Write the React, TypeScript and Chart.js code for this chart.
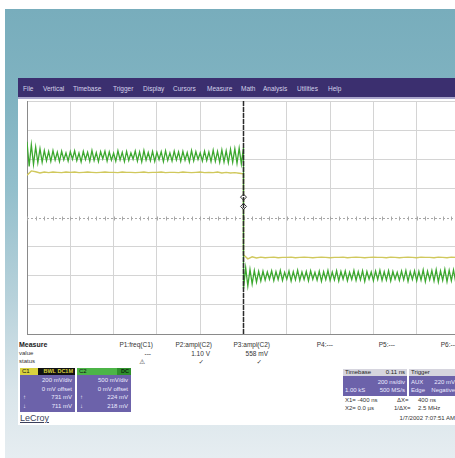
import React, { useEffect, useRef } from "react";
import { Chart, registerables } from "chart.js";

Chart.register(...registerables);

// ---------------- data ----------------
// C1 sample times (ns), 20 ns apart: before and after the trigger
const c1HighTimesNs = [
  -1000, -980, -960, -940, -920, -900, -880, -860, -840, -820,
  -800, -780, -760, -740, -720, -700, -680, -660, -640, -620,
  -600, -580, -560, -540, -520, -500, -480, -460, -440, -420,
  -400, -380, -360, -340, -320, -300, -280, -260, -240, -220,
  -200, -180, -160, -140, -120, -100, -80, -60, -40, -20,
  0,
];
const c1LowTimesNs = [
  0, 20, 40, 60, 80, 100, 120, 140, 160, 180,
  200, 220, 240, 260, 280, 300, 320, 340, 360, 380,
  400, 420, 440, 460, 480, 500, 520, 540, 560, 580,
  600, 620, 640, 660, 680, 700, 720, 740, 760, 780,
  800, 820, 840, 860, 880, 900, 920, 940, 960, 980,
  1000,
];
// C2 sample times (ns), 10 ns apart
const c2HighTimesNs = [
  -1000, -990, -980, -970, -960, -950, -940, -930, -920, -910,
  -900, -890, -880, -870, -860, -850, -840, -830, -820, -810,
  -800, -790, -780, -770, -760, -750, -740, -730, -720, -710,
  -700, -690, -680, -670, -660, -650, -640, -630, -620, -610,
  -600, -590, -580, -570, -560, -550, -540, -530, -520, -510,
  -500, -490, -480, -470, -460, -450, -440, -430, -420, -410,
  -400, -390, -380, -370, -360, -350, -340, -330, -320, -310,
  -300, -290, -280, -270, -260, -250, -240, -230, -220, -210,
  -200, -190, -180, -170, -160, -150, -140, -130, -120, -110,
  -100, -90, -80, -70, -60, -50, -40, -30, -20, -10,
  0,
];
const c2LowTimesNs = [
  0, 10, 20, 30, 40, 50, 60, 70, 80, 90,
  100, 110, 120, 130, 140, 150, 160, 170, 180, 190,
  200, 210, 220, 230, 240, 250, 260, 270, 280, 290,
  300, 310, 320, 330, 340, 350, 360, 370, 380, 390,
  400, 410, 420, 430, 440, 450, 460, 470, 480, 490,
  500, 510, 520, 530, 540, 550, 560, 570, 580, 590,
  600, 610, 620, 630, 640, 650, 660, 670, 680, 690,
  700, 710, 720, 730, 740, 750, 760, 770, 780, 790,
  800, 810, 820, 830, 840, 850, 860, 870, 880, 890,
  900, 910, 920, 930, 940, 950, 960, 970, 980, 990,
  1000,
];

// C2 (green) trace, in screen divisions
const c2HighDiv = [
  2.6, 1.75, 2.5, 1.82, 2.42, 1.88, 2.36, 1.9, 2.3, 1.95,
  2.27, 1.93, 2.3, 1.97, 2.24, 1.92, 2.28, 1.98, 2.22, 1.94,
  2.26, 2.0, 2.29, 1.95, 2.21, 1.91, 2.27, 1.99, 2.24, 1.93,
  2.3, 1.96, 2.23, 1.92, 2.26, 2.01, 2.28, 1.94, 2.25, 1.97,
  2.21, 1.93, 2.29, 1.98, 2.24, 1.92, 2.27, 1.96, 2.22, 2.0,
  2.28, 1.94, 2.25, 1.91, 2.3, 1.97, 2.23, 1.95, 2.27, 1.93,
  2.24, 1.99, 2.26, 1.92, 2.29, 1.96, 2.22, 1.94, 2.28, 1.98,
  2.25, 1.93, 2.27, 1.97, 2.23, 1.91, 2.3, 1.95, 2.26, 1.99,
  2.22, 1.94, 2.28, 1.96, 2.25, 1.92, 2.31, 1.93, 2.27, 1.9,
  2.32, 1.91, 2.29, 1.88, 2.34, 1.9, 2.36, 1.86, 2.38, 1.84,
  2.4,
];
const c2LowDiv = [
  -2.45, -1.72, -2.35, -1.78, -2.28, -1.82, -2.22, -1.85, -2.18, -1.84,
  -2.15, -1.87, -2.12, -1.83, -2.17, -1.86, -2.13, -1.82, -2.16, -1.88,
  -2.12, -1.84, -2.18, -1.86, -2.14, -1.81, -2.16, -1.87, -2.13, -1.85,
  -2.17, -1.83, -2.12, -1.88, -2.15, -1.84, -2.19, -1.86, -2.13, -1.82,
  -2.16, -1.87, -2.14, -1.83, -2.18, -1.85, -2.12, -1.84, -2.17, -1.88,
  -2.13, -1.82, -2.16, -1.86, -2.14, -1.83, -2.19, -1.85, -2.12, -1.87,
  -2.17, -1.84, -2.13, -1.81, -2.16, -1.86, -2.15, -1.83, -2.18, -1.85,
  -2.12, -1.88, -2.16, -1.84, -2.14, -1.82, -2.19, -1.86, -2.13, -1.83,
  -2.17, -1.85, -2.15, -1.8, -2.2, -1.84, -2.14, -1.82, -2.18, -1.79,
  -2.21, -1.83, -2.16, -1.78, -2.2, -1.81, -2.17, -1.8, -2.22, -1.82,
  -2.18,
];
// C1 (yellow) trace, in screen divisions
const c1HighDiv = [
  1.45, 1.6, 1.57, 1.53, 1.56, 1.54, 1.56, 1.55, 1.54, 1.56,
  1.55, 1.56, 1.54, 1.55, 1.56, 1.55, 1.54, 1.55, 1.56, 1.55,
  1.55, 1.54, 1.56, 1.55, 1.55, 1.54, 1.55, 1.56, 1.54, 1.55,
  1.55, 1.56, 1.54, 1.55, 1.55, 1.54, 1.56, 1.55, 1.54, 1.55,
  1.56, 1.54, 1.55, 1.54, 1.56, 1.53, 1.55, 1.53, 1.54, 1.52,
  1.5,
];
const c1LowDiv = [
  -1.28, -1.42, -1.35, -1.39, -1.36, -1.38, -1.37, -1.36, -1.38, -1.37,
  -1.37, -1.36, -1.38, -1.37, -1.36, -1.37, -1.38, -1.37, -1.36, -1.37,
  -1.38, -1.37, -1.37, -1.36, -1.38, -1.37, -1.36, -1.37, -1.38, -1.37,
  -1.36, -1.37, -1.37, -1.38, -1.36, -1.37, -1.38, -1.37, -1.36, -1.37,
  -1.38, -1.36, -1.37, -1.37, -1.38, -1.36, -1.37, -1.38, -1.36, -1.37,
  -1.37,
];

const triggerTimeNs = 0;
const triggerMarkDiv = [0.7, 0.38];
const timeMinNs = -1000;
const timeMaxNs = 1000;
const timeDivNs = 200;
const divMin = -4;
const divMax = 4;

const menuItems = ["File", "Vertical", "Timebase", "Trigger", "Display", "Cursors", "Measure", "Math", "Analysis", "Utilities", "Help"];
const menuX = [23, 43, 73, 113, 143, 173, 207, 241, 263, 297, 328];

const measureNames = ["P1:freq(C1)", "P2:ampl(C2)", "P3:ampl(C2)", "P4:---", "P5:---", "P6:---"];
const measureValues = ["---", "1.10 V", "558 mV", "", "", ""];
const measureStatus = ["⚠", "✓", "✓", "", "", ""];
const measureRight = [153, 212, 270, 333, 395, 457];

const c1Lines = ["200 mV/div", "0 mV offset", "731 mV", "711 mV"];
const c2Lines = ["500 mV/div", "0 mV offset", "224 mV", "218 mV"];

// --------------------------------------
const FONT = '"Liberation Sans", Arial, "DejaVu Sans", sans-serif';

const abs = (o: React.CSSProperties): React.CSSProperties => ({ position: "absolute", ...o });

function ScopeChart() {
  const ref = useRef<HTMLCanvasElement | null>(null);
  useEffect(() => {
    if (!ref.current) return;
    const toPts = (ts: number[], vs: number[]) => ts.map((t, i) => ({ x: t, y: vs[i] }));
    const centerAxis = {
      id: "centerAxis",
      beforeDatasetsDraw(chart: any) {
        const { ctx, chartArea, scales } = chart;
        const xs = scales.x;
        const ys = scales.y;
        const y0 = Math.round(ys.getPixelForValue(0)) + 0.5;
        ctx.save();
        ctx.strokeStyle = "#a8a8a8";
        ctx.lineWidth = 1;
        ctx.setLineDash([2, 2]);
        ctx.beginPath();
        ctx.moveTo(chartArea.left, y0);
        ctx.lineTo(chartArea.right, y0);
        ctx.stroke();
        ctx.setLineDash([]);
        ctx.beginPath();
        for (let v = timeMinNs; v <= timeMaxNs; v += timeDivNs / 5) {
          const px = Math.round(xs.getPixelForValue(v)) + 0.5;
          ctx.moveTo(px, y0 - 2);
          ctx.lineTo(px, y0 + 2);
        }
        ctx.stroke();
        ctx.restore();
      },
    };
    const chart = new Chart(ref.current, {
      type: "scatter",
      data: {
        datasets: [
          {
            label: "Trigger",
            data: [
              { x: triggerTimeNs, y: divMin },
              { x: triggerTimeNs, y: divMax },
            ],
            showLine: true,
            borderColor: "#2b2b2b",
            borderWidth: 1.5,
            borderDash: [5, 1],
            pointRadius: 0,
          },
          {
            label: "Trigger marks",
            data: triggerMarkDiv.map((v) => ({ x: triggerTimeNs, y: v })),
            showLine: false,
            pointStyle: "rectRot",
            pointRadius: 3,
            backgroundColor: "#ffffff",
            borderColor: "#333333",
            borderWidth: 1,
          },
          {
            label: "C2",
            data: [...toPts(c2HighTimesNs, c2HighDiv), ...toPts(c2LowTimesNs, c2LowDiv)],
            showLine: true,
            borderColor: "#3ca82f",
            borderWidth: 1.3,
            pointRadius: 0,
          },
          {
            label: "C1",
            data: [...toPts(c1HighTimesNs, c1HighDiv), ...toPts(c1LowTimesNs, c1LowDiv)],
            showLine: true,
            borderColor: "#d0c85c",
            borderWidth: 1.4,
            pointRadius: 0,
          },
        ],
      },
      options: {
        animation: false,
        responsive: true,
        maintainAspectRatio: false,
        events: [],
        layout: { padding: 5 },
        plugins: { legend: { display: false }, tooltip: { enabled: false } },
        scales: {
          x: {
            type: "linear",
            min: timeMinNs,
            max: timeMaxNs,
            ticks: { display: false, stepSize: timeDivNs },
            grid: { color: "#d4d4d4", drawTicks: false },
            border: { display: true, color: "#8a8a8a" },
          },
          y: {
            type: "linear",
            min: divMin,
            max: divMax,
            ticks: { display: false, stepSize: 1 },
            grid: {
              color: (c: any) => (c.tick && c.tick.value === 0 ? "rgba(0,0,0,0)" : "#d4d4d4"),
              drawTicks: false,
            },
            border: { display: true, color: "#8a8a8a" },
          },
        },
      },
      plugins: [centerAxis],
    } as any);
    return () => chart.destroy();
  }, []);
  return (
    <div style={abs({ left: 22, top: 96, width: 443, height: 243 })}>
      <canvas ref={ref} />
    </div>
  );
}

function ChannelBox(props: {
  left: number;
  width: number;
  name: string;
  nameBg: string;
  tag: string;
  tagBg: string;
  tagColor: string;
  nameWidth: number;
  lines: string[];
}) {
  const { left, width, name, nameBg, tag, tagBg, tagColor, nameWidth, lines } = props;
  return (
    <div style={abs({ left, top: 368, width, height: 44, background: "#6c62aa" })}>
      <div style={abs({ left: 0, top: 0, width: nameWidth, height: 7, background: nameBg, color: "#111", fontSize: 6, lineHeight: "7px", paddingLeft: 2, boxSizing: "border-box" })}>{name}</div>
      <div style={abs({ left: nameWidth, top: 0, width: width - nameWidth, height: 7, background: tagBg, color: tagColor, fontSize: 5.5, lineHeight: "7px", textAlign: "right", paddingRight: 2, boxSizing: "border-box", fontWeight: 700 })}>{tag}</div>
      {lines.map((l, i) => (
        <div key={i} style={abs({ left: 0, top: 9 + i * 8.5, width: width - 3, height: 7, color: "#ecebff", fontSize: 6, lineHeight: "7px", textAlign: "right" })}>{l}</div>
      ))}
      <div style={abs({ left: 3, top: 9 + 2 * 8.5, color: "#ecebff", fontSize: 6, lineHeight: "7px" })}>↑</div>
      <div style={abs({ left: 3, top: 9 + 3 * 8.5, color: "#ecebff", fontSize: 6, lineHeight: "7px" })}>↓</div>
    </div>
  );
}

export default function App() {
  const txt = (o: React.CSSProperties): React.CSSProperties => abs({ whiteSpace: "nowrap", ...o });
  return (
    <div style={{ position: "fixed", left: 0, top: 0, width: 455, height: 458, overflow: "hidden", background: "#ffffff", fontFamily: FONT }}>
      {/* page background */}
      <div
        style={abs({
          left: 5,
          top: 9,
          width: 450,
          height: 449,
          background: "linear-gradient(to bottom, #78adbc 0%, #80b3c1 20%, #93bfcc 40%, #b8d2db 65%, #d9e5ea 85%, #e6edf1 100%)",
        })}
      />
      {/* scope panel */}
      <div style={abs({ left: 18, top: 78, width: 437, height: 347, background: "#ffffff" })} />
      {/* menu bar */}
      <div style={abs({ left: 18, top: 78, width: 437, height: 19, background: "#3b2f6f", borderBottom: "2px solid #aaa6cc" })} />
      {menuItems.map((m, i) => (
        <div key={m} style={txt({ left: menuX[i], top: 85, fontSize: 6.5, lineHeight: "7px", color: "#d4d2ea" })}>
          {m}
        </div>
      ))}

      <ScopeChart />

      {/* measurement table */}
      <div style={txt({ left: 19, top: 341, fontSize: 7, lineHeight: "8px", color: "#222", fontWeight: 700 })}>Measure</div>
      <div style={txt({ left: 19, top: 350, fontSize: 6, lineHeight: "7px", color: "#333" })}>value</div>
      <div style={txt({ left: 19, top: 358, fontSize: 6, lineHeight: "7px", color: "#333" })}>status</div>
      {measureNames.map((n, i) => (
        <div key={n} style={txt({ left: measureRight[i] - 60, width: 60, top: 341, fontSize: 6.5, lineHeight: "8px", color: "#333", textAlign: "right" })}>
          {n}
        </div>
      ))}
      {measureValues.map((v, i) =>
        v ? (
          <div key={"v" + i} style={txt({ left: measureRight[i] - 60, width: 58, top: 350, fontSize: 6.5, lineHeight: "7px", color: "#333", textAlign: "right" })}>
            {v}
          </div>
        ) : null
      )}
      {measureStatus.map((s, i) =>
        s ? (
          <div key={"s" + i} style={txt({ left: measureRight[i] - 60, width: 52, top: 358, fontSize: 6.5, lineHeight: "7px", color: "#333", textAlign: "right" })}>
            {s}
          </div>
        ) : null
      )}

      {/* channel descriptors */}
      <ChannelBox left={20} width={55} name="C1" nameBg="#d9d23e" nameWidth={18} tag="BWL DC1M" tagBg="#111111" tagColor="#d9d23e" lines={c1Lines} />
      <ChannelBox left={77} width={54} name="C2" nameBg="#4cb447" nameWidth={40} tag="DC" tagBg="#2f8f2c" tagColor="#0b2a0b" lines={c2Lines} />

      {/* timebase / trigger descriptors */}
      <div style={abs({ left: 343, top: 369, width: 64, height: 27, background: "#6c62aa" })}>
        <div style={txt({ left: 0, top: 0, width: 64, height: 7, background: "#d6d5de", color: "#222", fontSize: 6, lineHeight: "7px", paddingLeft: 2, boxSizing: "border-box" })}>Timebase</div>
        <div style={txt({ left: 30, top: 0, width: 32, fontSize: 6, lineHeight: "7px", color: "#222", textAlign: "right" })}>0.11 ns</div>
        <div style={txt({ left: 0, top: 10, width: 62, fontSize: 6, lineHeight: "7px", color: "#ecebff", textAlign: "right" })}>200 ns/div</div>
        <div style={txt({ left: 2, top: 18, fontSize: 6, lineHeight: "7px", color: "#ecebff" })}>1.00 kS</div>
        <div style={txt({ left: 0, top: 18, width: 62, fontSize: 6, lineHeight: "7px", color: "#ecebff", textAlign: "right" })}>500 MS/s</div>
      </div>
      <div style={abs({ left: 409, top: 369, width: 50, height: 27, background: "#6c62aa" })}>
        <div style={txt({ left: 0, top: 0, width: 50, height: 7, background: "#d6d5de", color: "#222", fontSize: 6, lineHeight: "7px", paddingLeft: 2, boxSizing: "border-box" })}>Trigger</div>
        <div style={txt({ left: 2, top: 10, fontSize: 6, lineHeight: "7px", color: "#ecebff" })}>AUX</div>
        <div style={txt({ left: 0, top: 10, width: 46, fontSize: 6, lineHeight: "7px", color: "#ecebff", textAlign: "right" })}>220 mV</div>
        <div style={txt({ left: 2, top: 18, fontSize: 6, lineHeight: "7px", color: "#ecebff" })}>Edge</div>
        <div style={txt({ left: 0, top: 18, width: 46, fontSize: 6, lineHeight: "7px", color: "#ecebff", textAlign: "right" })}>Negative</div>
      </div>

      {/* cursor readouts */}
      <div style={txt({ left: 345, top: 397, fontSize: 6, lineHeight: "7px", color: "#333" })}>X1= -400 ns</div>
      <div style={txt({ left: 397, top: 397, fontSize: 6, lineHeight: "7px", color: "#333" })}>ΔX=</div>
      <div style={txt({ left: 418, top: 397, fontSize: 6, lineHeight: "7px", color: "#333" })}>400 ns</div>
      <div style={txt({ left: 345, top: 405, fontSize: 6, lineHeight: "7px", color: "#333" })}>X2= 0.0 µs</div>
      <div style={txt({ left: 394, top: 405, fontSize: 6, lineHeight: "7px", color: "#333" })}>1/ΔX=</div>
      <div style={txt({ left: 418, top: 405, fontSize: 6, lineHeight: "7px", color: "#333" })}>2.5 MHz</div>

      {/* footer */}
      <div style={txt({ left: 20, top: 413, fontSize: 9, lineHeight: "10px", color: "#3a3f5a", textDecoration: "underline" })}>LeCroy</div>
      <div style={txt({ left: 380, width: 75, top: 415, fontSize: 6, lineHeight: "7px", color: "#333", textAlign: "right" })}>1/7/2002 7:07:51 AM</div>
    </div>
  );
}
